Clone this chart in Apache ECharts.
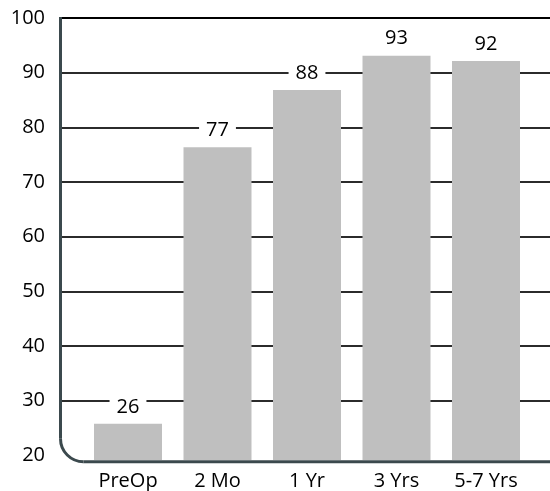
<!DOCTYPE html>
<html>
<head>
<meta charset="utf-8">
<script src="https://cdn.jsdelivr.net/npm/echarts@6/dist/echarts.min.js"></script>
<style>
html,body{margin:0;padding:0;background:#fff;}
#c{width:550px;height:491px;}
</style>
</head>
<body>
<div id="c"></div>
<script>
const categories = ['PreOp', '2 Mo', '1 Yr', '3 Yrs', '5-7 Yrs'];
const values = [25.6, 76.3, 86.8, 93.1, 92.1];
const valueLabels = ['26', '77', '88', '93', '92'];
const yMin = 20, yMax = 100, yInterval = 10;

const FONT = '"Open Sans", "Noto Sans", sans-serif';
const FS = 20;
const chart = echarts.init(document.getElementById('c'), null, {renderer: 'canvas'});

// layout (pixels)
const axLeft = 60.5, axTop = 18, axBottom = 461.8, corner = 23;
const y20 = 455.4;

const gridColors = [];
for (let v = yMin + yInterval; v <= yMax; v += yInterval) gridColors.push(v === yMax ? '#000' : '#2b2b2b');

chart.setOption({
  animation: false,
  backgroundColor: '#fff',
  grid: [
    {left: 61, right: 0, top: axTop, bottom: 491 - y20, containLabel: false},
    {left: 83.25, right: 19.25, top: axTop, bottom: 491 - axBottom + 0.8, containLabel: false}
  ],
  xAxis: [
    {gridIndex: 0, type: 'category', data: categories, show: false},
    {
      gridIndex: 1, type: 'category', data: categories,
      axisLine: {show: false}, axisTick: {show: false},
      axisLabel: {fontFamily: FONT, fontSize: FS, color: '#000', margin: 11}
    }
  ],
  yAxis: [
    {
      gridIndex: 0, type: 'value', min: yMin, max: yMax, interval: yInterval,
      axisLine: {show: false}, axisTick: {show: false},
      axisLabel: {fontFamily: FONT, fontSize: FS, color: '#000', margin: 16},
      splitLine: {show: true, showMinLine: false, lineStyle: {color: gridColors, width: 1.8}}
    },
    {
      gridIndex: 1, type: 'value',
      min: yMin - (axBottom - 0.8 - y20) * (yMax - yMin) / (y20 - axTop),
      max: yMax, show: false, splitLine: {show: false}
    }
  ],
  series: [{
    type: 'bar',
    xAxisIndex: 1, yAxisIndex: 1,
    data: values,
    barWidth: 68,
    itemStyle: {color: '#bfbfbf'},
    label: {
      show: true, position: 'top', distance: 6,
      formatter: p => valueLabels[p.dataIndex],
      fontFamily: FONT, fontSize: FS, color: '#000',
      backgroundColor: '#fff', padding: [1, 7]
    },
    z: 3
  }],
  graphic: [
    {type: 'polyline', z: 10, shape: {points: [[axLeft, axTop - 1], [axLeft, axBottom - corner]]},
     style: {stroke: '#3b494d', lineWidth: 3, fill: null}},
    {type: 'arc', z: 10, shape: {cx: axLeft + corner, cy: axBottom - corner, r: corner, startAngle: Math.PI / 2, endAngle: Math.PI, clockwise: true},
     style: {stroke: '#3b494d', lineWidth: 3, fill: null}},
    {type: 'polyline', z: 10, shape: {points: [[axLeft + corner, axBottom], [550, axBottom]]},
     style: {stroke: '#3b494d', lineWidth: 3, fill: null}}
  ]
});
</script>
</body>
</html>
